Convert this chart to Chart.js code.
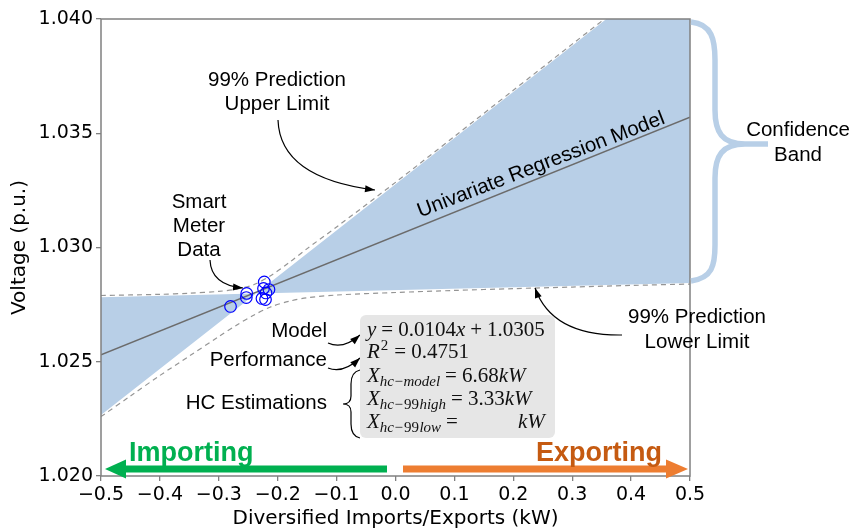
<!DOCTYPE html>
<html>
<head>
<meta charset="utf-8">
<script src="https://cdn.jsdelivr.net/npm/chart.js@4.4.1/dist/chart.umd.min.js"></script>
<style>
  html, body { margin: 0; padding: 0; background: #fff; }
</style>
</head>
<body>
<canvas id="chart" width="853" height="531"></canvas>
<script>
// Datos (kW / p.u.)
const meterX = [-0.2801, -0.2526, -0.2533, -0.2228, -0.2241, -0.2148, -0.2267, -0.2207, -0.2199];
const meterY = [1.02742, 1.02799, 1.02781, 1.02849, 1.02821, 1.02816, 1.02777, 1.02772, 1.02801];

const regX = [-0.5, 0.5];
const regY = [1.0253, 1.0357];

const upperX = [-0.5, -0.4, -0.35, -0.3, -0.27, -0.24, -0.21, -0.18, -0.15, -0.1, 0.0, 0.1, 0.2, 0.3, 0.4, 0.5];
const upperY = [1.02790, 1.02795, 1.02800, 1.02808, 1.02818, 1.02838, 1.02880, 1.02935, 1.02995, 1.03090, 1.03285, 1.03486, 1.03688, 1.03890, 1.04091, 1.04293];

const lowerX = [-0.5, -0.45, -0.4, -0.35, -0.3, -0.27, -0.24, -0.21, -0.18, -0.15, -0.1, 0.0, 0.1, 0.2, 0.3, 0.4, 0.5];
const lowerY = [1.02260, 1.02350, 1.02440, 1.02525, 1.02610, 1.02660, 1.02705, 1.02742, 1.02765, 1.02780, 1.02792, 1.02803, 1.02812, 1.02820, 1.02827, 1.02834, 1.02840];

// Banda sombreada: dos rectas que se cruzan
const bandX = [-0.5, 0.5];
const bandFlatY = [1.02782, 1.02845];
const bandSteepY = [1.02267, 1.04287];

const xTicks = [-0.5, -0.4, -0.3, -0.2, -0.1, 0.0, 0.1, 0.2, 0.3, 0.4, 0.5];
const yTicks = [1.020, 1.025, 1.030, 1.035, 1.040];

function pts(xs, ys) {
    return xs.map((x, i) => ({ x: x, y: ys[i] }));
}

const SANS = '"Liberation Sans", Arial, sans-serif';
const SERIF = '"Liberation Serif", "Times New Roman", serif';

function curvedArrow(ctx, x0, y0, cx, cy, x1, y1) {
    ctx.beginPath();
    ctx.moveTo(x0, y0);
    ctx.quadraticCurveTo(cx, cy, x1, y1);
    ctx.stroke();
    const ang = Math.atan2(y1 - cy, x1 - cx);
    const L = 10, W = 3.5;
    ctx.beginPath();
    ctx.moveTo(x1, y1);
    ctx.lineTo(x1 - L * Math.cos(ang) + W * Math.sin(ang), y1 - L * Math.sin(ang) - W * Math.cos(ang));
    ctx.lineTo(x1 - L * Math.cos(ang) - W * Math.sin(ang), y1 - L * Math.sin(ang) + W * Math.cos(ang));
    ctx.closePath();
    ctx.fill();
}

function fatArrow(ctx, xStart, xBase, xTip, y, color) {
    ctx.fillStyle = color;
    const dir = xTip > xStart ? 1 : -1;
    ctx.fillRect(Math.min(xStart, xBase), y - 3.5, Math.abs(xBase - xStart), 7);
    ctx.beginPath();
    ctx.moveTo(xTip, y);
    ctx.lineTo(xBase - dir * 1, y - 9.5);
    ctx.lineTo(xBase - dir * 1, y + 9.5);
    ctx.closePath();
    ctx.fill();
}

// segmentos: [texto, estilo] con estilo i (itálica), r (romana), si/sr (subíndice), sup
function mathLine(ctx, x, y, segs) {
    let cx = x;
    segs.forEach(function (s) {
        const txt = s[0], st = s[1];
        let font, dy = 0, gap = 0;
        if (st === 'i') font = 'italic 21px ' + SERIF;
        else if (st === 'r') font = '21px ' + SERIF;
        else if (st === 'si') { font = 'italic 15px ' + SERIF; dy = 4; }
        else if (st === 'sr') { font = '15px ' + SERIF; dy = 4; gap = 0.5; }
        else if (st === 'sup') { font = '15px ' + SERIF; dy = -8; gap = 1; }
        else if (st === 'op') { font = '21px ' + SERIF; gap = 5; }
        ctx.font = font;
        cx += gap;
        ctx.fillText(txt, cx, y + dy);
        cx += ctx.measureText(txt).width + gap;
    });
}

const annotations = {
    id: 'annotations',
    afterDraw(chart) {
        const ctx = chart.ctx;
        const a = chart.chartArea;
        ctx.save();

        // marco
        ctx.strokeStyle = '#808080';
        ctx.lineWidth = 1.5;
        ctx.strokeRect(a.left, a.top, a.right - a.left, a.bottom - a.top);

        // texto sobre la recta de regresión
        ctx.fillStyle = '#000';
        ctx.font = '20.5px ' + SANS;
        ctx.textAlign = 'center';
        ctx.textBaseline = 'middle';
        ctx.save();
        ctx.translate(541, 165);
        ctx.rotate(-21 * Math.PI / 180);
        ctx.fillText('Univariate Regression Model', 0, 0);
        ctx.restore();

        ctx.fillText('99% Prediction', 277, 80);
        ctx.fillText('Upper Limit', 277, 104);
        ctx.fillText('Smart', 199, 202);
        ctx.fillText('Meter', 199, 226);
        ctx.fillText('Data', 199, 250);
        ctx.fillText('Confidence', 798, 130);
        ctx.fillText('Band', 798, 155);
        ctx.fillText('99% Prediction', 697, 317);
        ctx.fillText('Lower Limit', 697, 342);

        ctx.textAlign = 'right';
        ctx.fillText('Model', 327, 331);
        ctx.fillText('Performance', 327, 360);
        ctx.fillText('HC Estimations', 327, 403);

        // flechas curvas
        ctx.strokeStyle = '#000';
        ctx.fillStyle = '#000';
        ctx.lineWidth = 1.2;
        curvedArrow(ctx, 278, 120, 280, 178, 375, 190);
        curvedArrow(ctx, 210, 260, 211, 285, 243, 288);
        curvedArrow(ctx, 622, 335, 552, 336, 535, 288);
        curvedArrow(ctx, 328, 343, 343, 350, 360, 335);
        curvedArrow(ctx, 328, 368, 343, 374, 360, 358);

        // llave HC
        ctx.beginPath();
        ctx.moveTo(360, 370);
        ctx.quadraticCurveTo(351, 372, 351, 384);
        ctx.lineTo(351, 396);
        ctx.quadraticCurveTo(351, 404, 343, 404);
        ctx.quadraticCurveTo(351, 404, 351, 412);
        ctx.lineTo(351, 424);
        ctx.quadraticCurveTo(351, 436, 360, 438);
        ctx.stroke();

        // caja de ecuaciones
        ctx.fillStyle = '#e6e6e6';
        ctx.beginPath();
        ctx.roundRect(360, 315, 195, 123, 6);
        ctx.fill();
        ctx.fillStyle = '#111';
        ctx.textAlign = 'left';
        ctx.textBaseline = 'alphabetic';
        mathLine(ctx, 367, 336, [['y', 'i'], ['=', 'op'], ['0.0104', 'r'], ['x', 'i'], ['+', 'op'], ['1.0305', 'r']]);
        mathLine(ctx, 367, 358, [['R', 'i'], ['2', 'sup'], ['=', 'op'], ['0.4751', 'r']]);
        mathLine(ctx, 367, 382, [['X', 'i'], ['hc', 'si'], ['\u2212', 'sr'], ['model', 'si'], ['=', 'op'], ['6.68', 'r'], ['kW', 'i']]);
        mathLine(ctx, 367, 405, [['X', 'i'], ['hc', 'si'], ['\u2212', 'sr'], ['99', 'sr'], ['high', 'si'], ['=', 'op'], ['3.33', 'r'], ['kW', 'i']]);
        mathLine(ctx, 367, 428, [['X', 'i'], ['hc', 'si'], ['\u2212', 'sr'], ['99', 'sr'], ['low', 'si'], ['=', 'op']]);
        mathLine(ctx, 518, 428, [['kW', 'i']]);

        // llave de la banda de confianza
        ctx.strokeStyle = '#b8cfe7';
        ctx.lineWidth = 5.5;
        ctx.lineCap = 'butt';
        ctx.beginPath();
        ctx.moveTo(691, 22);
        ctx.bezierCurveTo(712, 24, 715, 40, 715, 60);
        ctx.lineTo(715, 110);
        ctx.bezierCurveTo(715, 132, 722, 144, 745, 144);
        ctx.lineTo(768, 144);
        ctx.moveTo(745, 144);
        ctx.bezierCurveTo(722, 144, 715, 156, 715, 178);
        ctx.lineTo(715, 245);
        ctx.bezierCurveTo(715, 266, 712, 278, 691, 281);
        ctx.stroke();

        // flechas Importing / Exporting
        fatArrow(ctx, 387, 125, 105, 469, '#00b050');
        fatArrow(ctx, 403, 667, 688, 469, '#ed7d31');
        ctx.font = 'bold 27px ' + SANS;
        ctx.textBaseline = 'alphabetic';
        ctx.textAlign = 'left';
        ctx.fillStyle = '#00b050';
        ctx.fillText('Importing', 129, 461);
        ctx.textAlign = 'right';
        ctx.fillStyle = '#c55a11';
        ctx.fillText('Exporting', 662, 461);

        ctx.restore();
    }
};

new Chart(document.getElementById('chart'), {
    type: 'line',
    data: {
        datasets: [
            {
                data: pts(bandX, bandFlatY),
                borderWidth: 0, pointRadius: 0, fill: false, order: 6
            },
            {
                data: pts(bandX, bandSteepY),
                borderWidth: 0, pointRadius: 0, fill: 0,
                backgroundColor: '#b8cfe7', order: 5
            },
            {
                data: pts(upperX, upperY),
                borderColor: '#959595', borderWidth: 1.2, borderDash: [5, 4],
                pointRadius: 0, fill: false, tension: 0.3, order: 3
            },
            {
                data: pts(lowerX, lowerY),
                borderColor: '#959595', borderWidth: 1.2, borderDash: [5, 4],
                pointRadius: 0, fill: false, tension: 0.3, order: 3
            },
            {
                data: pts(regX, regY),
                borderColor: '#6b6b6b', borderWidth: 1.5,
                pointRadius: 0, fill: false, order: 2
            },
            {
                data: pts(meterX, meterY),
                showLine: false, pointRadius: 5.8, pointBorderWidth: 1.2,
                pointBorderColor: '#0000ff', pointBackgroundColor: 'rgba(0,0,0,0)',
                order: 1
            }
        ]
    },
    options: {
        responsive: false,
        devicePixelRatio: 1,
        animation: false,
        layout: { padding: { top: 19, right: 163, left: 0, bottom: 0 } },
        plugins: {
            legend: { display: false },
            tooltip: { enabled: false }
        },
        scales: {
            x: {
                type: 'linear', min: -0.5, max: 0.5,
                afterFit: function (s) { s.height = 55; },
                afterBuildTicks: function (s) { s.ticks = xTicks.map(v => ({ value: v })); },
                ticks: {
                    color: '#000', padding: 3, maxRotation: 0,
                    font: { family: '"DejaVu Sans"', size: 19 },
                    callback: v => (v < 0 ? '\u2212' : '') + Math.abs(v).toFixed(1)
                },
                grid: { drawOnChartArea: false, drawTicks: true, tickLength: 5, color: '#808080', lineWidth: 1.3 },
                border: { display: false },
                title: {
                    display: true, text: 'Diversified Imports/Exports (kW)', color: '#000',
                    font: { family: '"DejaVu Sans"', size: 20 }, padding: { top: 0, bottom: 0 }
                }
            },
            y: {
                min: 1.02, max: 1.04,
                afterFit: function (s) { s.width = 101; },
                afterBuildTicks: function (s) { s.ticks = yTicks.map(v => ({ value: v })); },
                ticks: {
                    color: '#000', padding: 3,
                    font: { family: '"DejaVu Sans"', size: 19 },
                    callback: v => v.toFixed(3)
                },
                grid: { drawOnChartArea: false, drawTicks: true, tickLength: 5, color: '#808080', lineWidth: 1.3 },
                border: { display: false },
                title: {
                    display: true, text: 'Voltage (p.u.)', color: '#000',
                    font: { family: '"DejaVu Sans"', size: 20 }, padding: { top: 8, bottom: 0 }
                }
            }
        }
    },
    plugins: [annotations]
});
</script>
</body>
</html>
